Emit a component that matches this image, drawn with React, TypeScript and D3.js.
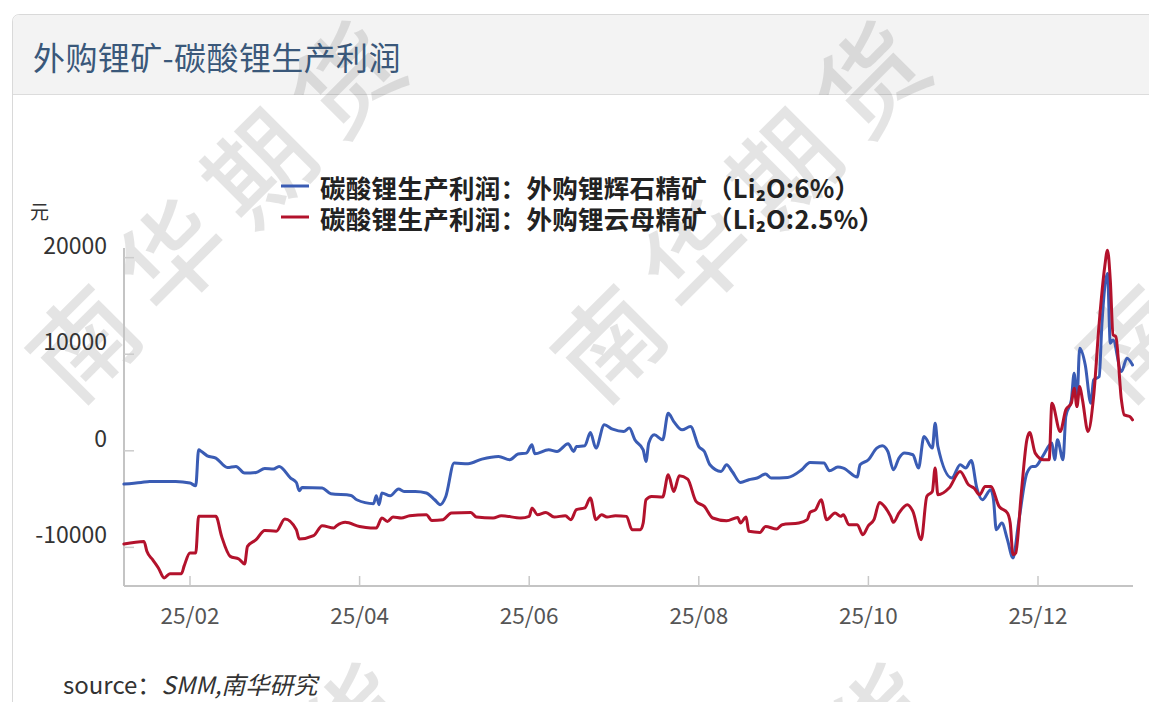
import React from "react";
import * as d3 from "d3";

const titleText = "外购锂矿-碳酸锂生产利润";
const unitLabel = "元";
const sourceLabel = "source：";
const sourceItalic = "SMM,南华研究";
const watermarkText = "南华期货";

const seriesNames = [
  "碳酸锂生产利润：外购锂辉石精矿（Li₂O:6%）",
  "碳酸锂生产利润：外购锂云母精矿（Li₂O:2.5%）",
];
const seriesColors = ["#3a5cb4", "#b3122c"];

const yTickValues = [-10000, 0, 10000, 20000];
const yDomain = [-14000, 21000];
const xTickDates = ["2025-02-01", "2025-04-01", "2025-06-01", "2025-08-01", "2025-10-01", "2025-12-01"];
const xTickLabels = ["25/02", "25/04", "25/06", "25/08", "25/10", "25/12"];

const spodumeneProfit: [string, number][] = [
  ["2025-01-09", -3450], ["2025-01-15", -3280], ["2025-01-18", -3170], ["2025-01-27", -3170],
  ["2025-02-01", -3340], ["2025-02-03", -3620], ["2025-02-04", 100], ["2025-02-05", -70],
  ["2025-02-07", -520], ["2025-02-10", -760], ["2025-02-14", -1730], ["2025-02-17", -1620],
  ["2025-02-20", -2310], ["2025-02-24", -2240], ["2025-02-27", -1830], ["2025-03-02", -1890],
  ["2025-03-04", -1620], ["2025-03-08", -2820], ["2025-03-10", -3280], ["2025-03-11", -4140],
  ["2025-03-12", -3800], ["2025-03-19", -3860], ["2025-03-22", -4450], ["2025-03-29", -4620],
  ["2025-03-31", -5070], ["2025-04-06", -5480], ["2025-04-07", -4650], ["2025-04-08", -5580],
  ["2025-04-09", -4370], ["2025-04-12", -4650], ["2025-04-15", -3960], ["2025-04-17", -4210],
  ["2025-04-21", -4210], ["2025-04-25", -4370], ["2025-04-28", -5070], ["2025-04-30", -5580],
  ["2025-05-02", -4730], ["2025-05-05", -1270], ["2025-05-10", -1340], ["2025-05-15", -860],
  ["2025-05-21", -590], ["2025-05-25", -930], ["2025-05-28", -340], ["2025-05-31", -240],
  ["2025-06-02", 620], ["2025-06-03", -310], ["2025-06-08", 100], ["2025-06-11", -70],
  ["2025-06-15", 720], ["2025-06-17", -70], ["2025-06-18", 440], ["2025-06-21", 520],
  ["2025-06-23", 1890], ["2025-06-25", 280], ["2025-06-28", 2690], ["2025-07-01", 2240],
  ["2025-07-05", 2000], ["2025-07-07", 2350], ["2025-07-09", 1140], ["2025-07-12", 100],
  ["2025-07-13", -1110], ["2025-07-14", 800], ["2025-07-16", 1650], ["2025-07-19", 1140],
  ["2025-07-21", 3900], ["2025-07-23", 3030], ["2025-07-26", 2170], ["2025-07-29", 2510],
  ["2025-08-01", 440], ["2025-08-03", -70], ["2025-08-05", -1450], ["2025-08-09", -2140],
  ["2025-08-11", -1450], ["2025-08-13", -2140], ["2025-08-16", -3280], ["2025-08-19", -3000],
  ["2025-08-22", -2820], ["2025-08-25", -2410], ["2025-08-27", -2820], ["2025-09-02", -2760],
  ["2025-09-07", -1960], ["2025-09-10", -1210], ["2025-09-15", -1270], ["2025-09-17", -2070],
  ["2025-09-20", -1690], ["2025-09-22", -1790], ["2025-09-27", -2720], ["2025-09-28", -1450],
  ["2025-10-01", -930], ["2025-10-04", 280], ["2025-10-06", 520], ["2025-10-08", -70],
  ["2025-10-10", -1960], ["2025-10-12", -750], ["2025-10-14", -240], ["2025-10-17", -410],
  ["2025-10-19", -1790], ["2025-10-21", 1480], ["2025-10-24", 280], ["2025-10-25", 2860],
  ["2025-10-26", 440], ["2025-10-31", -2820], ["2025-11-03", -1450], ["2025-11-05", -1790],
  ["2025-11-07", -1000], ["2025-11-09", -3860], ["2025-11-11", -5070], ["2025-11-14", -4030],
  ["2025-11-15", -5070], ["2025-11-16", -8170], ["2025-11-18", -7480], ["2025-11-20", -9200],
  ["2025-11-22", -11100], ["2025-11-24", -7480], ["2025-11-27", -2310], ["2025-11-29", -1620],
  ["2025-11-30", -1620], ["2025-12-03", -410], ["2025-12-06", 800], ["2025-12-07", -930],
  ["2025-12-08", 1140], ["2025-12-10", -930], ["2025-12-11", 3550], ["2025-12-13", 5270],
  ["2025-12-14", 8030], ["2025-12-15", 5270], ["2025-12-16", 10620], ["2025-12-18", 8890],
  ["2025-12-20", 4930], ["2025-12-21", 7340], ["2025-12-23", 7680], ["2025-12-24", 13200],
  ["2025-12-26", 18370], ["2025-12-27", 11140], ["2025-12-28", 11480], ["2025-12-31", 8200],
  ["2026-01-02", 9590], ["2026-01-04", 8890],
];

const lepidoliteProfit: [string, number][] = [
  ["2025-01-09", -9650], ["2025-01-16", -9380], ["2025-01-17", -10410], ["2025-01-19", -11270],
  ["2025-01-21", -12130], ["2025-01-23", -13160], ["2025-01-25", -12720], ["2025-01-29", -12720],
  ["2025-01-30", -11890], ["2025-02-01", -10580], ["2025-02-03", -10580], ["2025-02-04", -6790],
  ["2025-02-10", -6790], ["2025-02-12", -8860], ["2025-02-15", -10930], ["2025-02-18", -11200],
  ["2025-02-20", -11720], ["2025-02-21", -9900], ["2025-02-24", -9200], ["2025-02-27", -8240],
  ["2025-03-03", -8340], ["2025-03-06", -7060], ["2025-03-10", -8170], ["2025-03-11", -9130],
  ["2025-03-16", -8790], ["2025-03-19", -7760], ["2025-03-23", -7990], ["2025-03-24", -7760],
  ["2025-03-27", -7410], ["2025-04-01", -7830], ["2025-04-05", -7990], ["2025-04-07", -8000],
  ["2025-04-09", -6960], ["2025-04-11", -7310], ["2025-04-13", -6860], ["2025-04-16", -6960],
  ["2025-04-19", -6720], ["2025-04-25", -6620], ["2025-04-27", -7210], ["2025-05-01", -7130],
  ["2025-05-04", -6440], ["2025-05-11", -6380], ["2025-05-13", -6860], ["2025-05-19", -6960],
  ["2025-05-22", -6720], ["2025-05-29", -6960], ["2025-06-01", -6790], ["2025-06-02", -5920],
  ["2025-06-04", -6620], ["2025-06-07", -6380], ["2025-06-10", -6860], ["2025-06-14", -6720],
  ["2025-06-16", -7130], ["2025-06-18", -6100], ["2025-06-21", -5920], ["2025-06-23", -4890],
  ["2025-06-25", -7130], ["2025-06-27", -6620], ["2025-06-29", -6860], ["2025-07-02", -6720],
  ["2025-07-06", -6790], ["2025-07-08", -8170], ["2025-07-11", -8170], ["2025-07-12", -7480],
  ["2025-07-13", -5070], ["2025-07-15", -4730], ["2025-07-19", -4790], ["2025-07-21", -2480],
  ["2025-07-23", -4210], ["2025-07-25", -2590], ["2025-07-28", -2930], ["2025-07-31", -5240],
  ["2025-08-03", -5760], ["2025-08-06", -6960], ["2025-08-11", -7240], ["2025-08-15", -6900],
  ["2025-08-16", -7480], ["2025-08-18", -6860], ["2025-08-19", -8340], ["2025-08-23", -8450],
  ["2025-08-25", -7830], ["2025-08-29", -8100], ["2025-08-31", -7650], ["2025-09-06", -7480],
  ["2025-09-09", -7130], ["2025-09-10", -6380], ["2025-09-12", -6100], ["2025-09-14", -5070],
  ["2025-09-16", -7130], ["2025-09-19", -6440], ["2025-09-21", -6790], ["2025-09-22", -6620],
  ["2025-09-24", -7650], ["2025-09-27", -7650], ["2025-09-29", -8690], ["2025-10-01", -7750],
  ["2025-10-03", -7130], ["2025-10-05", -5350], ["2025-10-07", -5850], ["2025-10-09", -6790],
  ["2025-10-10", -7410], ["2025-10-12", -6440], ["2025-10-15", -5580], ["2025-10-17", -6280],
  ["2025-10-20", -9200], ["2025-10-22", -4730], ["2025-10-24", -4210], ["2025-10-25", -1790],
  ["2025-10-26", -4550], ["2025-10-30", -3860], ["2025-11-03", -2140], ["2025-11-06", -3520],
  ["2025-11-08", -3860], ["2025-11-10", -4550], ["2025-11-12", -3690], ["2025-11-14", -3690],
  ["2025-11-17", -5760], ["2025-11-20", -6440], ["2025-11-21", -7480], ["2025-11-22", -10750],
  ["2025-11-23", -10580], ["2025-11-25", -4370], ["2025-11-27", 1140], ["2025-11-28", 1890],
  ["2025-11-30", -240], ["2025-12-03", -930], ["2025-12-05", -930], ["2025-12-06", 4930],
  ["2025-12-09", 2000], ["2025-12-11", 4240], ["2025-12-13", 4930], ["2025-12-14", 6480],
  ["2025-12-15", 4580], ["2025-12-16", 6650], ["2025-12-17", 5270], ["2025-12-19", 2000],
  ["2025-12-21", 5610], ["2025-12-23", 13200], ["2025-12-25", 19060], ["2025-12-26", 20780],
  ["2025-12-27", 17680], ["2025-12-28", 12000], ["2025-12-29", 11820], ["2025-12-31", 5270],
  ["2026-01-01", 3720], ["2026-01-03", 3550], ["2026-01-04", 3210],
];

const W = 1149;
const H = 702;
const plotLeft = 124;
const plotRight = 1133;
const plotTop = 248;
const plotBottom = 586;
const firstTickX = 190;
const tickStep = 169.6;

const FONT = "'Noto Sans CJK SC', 'Noto Sans', sans-serif";

export default function App() {
  const parse = d3.timeParse("%Y-%m-%d");
  const tickDates = xTickDates.map((s) => parse(s) as Date);
  const x = d3
    .scaleTime()
    .domain(tickDates)
    .range(tickDates.map((_, i) => firstTickX + i * tickStep));
  const y = d3.scaleLinear().domain(yDomain).range([plotBottom, plotTop]);

  const line = d3
    .line<[string, number]>()
    .x((d) => x(parse(d[0]) as Date))
    .y((d) => y(d[1]))
    .curve(d3.curveMonotoneX);

  const series = [spodumeneProfit, lepidoliteProfit];

  const watermarkCenters: [number, number][] = [
    [218, 200],
    [743, 200],
    [1268, 200],
    [228, 842],
    [753, 842],
  ];

  return (
    <div style={{ position: "absolute", left: 0, top: 0 }}>
      <svg width={W} height={H} style={{ display: "block", background: "#fff" }}>
        {/* card */}
        <path
          d={`M12.5,${H} L12.5,22 Q12.5,14.5 20,14.5 L${W},14.5`}
          fill="none"
          stroke="#d9d9d9"
          strokeWidth={1}
        />
        <path d={`M13,${94} L13,22 Q13,15 20,15 L${W},15 L${W},94 Z`} fill="#f3f3f3" />
        <line x1={13} x2={W} y1={94.5} y2={94.5} stroke="#dcdcdc" strokeWidth={1} />

        {/* watermark */}
        <g
          fill="#000"
          fillOpacity={0.105}
          fontFamily={FONT}
          fontSize={104}
          fontWeight={500}
          style={{ letterSpacing: "20px" }}
        >
          {watermarkCenters.map(([cx, cy], i) => (
            <text
              key={i}
              transform={`translate(${cx},${cy}) rotate(-45)`}
              textAnchor="middle"
              dominantBaseline="central"
            >
              {watermarkText}
            </text>
          ))}
        </g>

        {/* title */}
        <text x={33} y={70} fontFamily={FONT} fontSize={32} fill="#3a587a" style={{ letterSpacing: "0.4px" }}>
          {titleText}
        </text>

        {/* legend */}
        {seriesNames.map((name, i) => (
          <g key={name} transform={`translate(0,${186 + i * 31})`}>
            <line x1={281} x2={309} y1={0} y2={0} stroke={seriesColors[i]} strokeWidth={3} />
            <text
              x={320}
              y={0}
              dominantBaseline="central"
              fontFamily={FONT}
              fontSize={25.5}
              fontWeight={700}
              fill="#222"
              style={{ letterSpacing: "0.3px" }}
            >
              {name}
            </text>
          </g>
        ))}

        {/* unit */}
        <text x={30} y={219} fontFamily={FONT} fontSize={19} fill="#333">
          {unitLabel}
        </text>

        {/* y axis */}
        <line x1={plotLeft} x2={plotLeft} y1={plotTop} y2={plotBottom} stroke="#c4c4c4" strokeWidth={2} />
        {yTickValues.map((v) => (
          <g key={v}>
            <line x1={plotLeft} x2={plotLeft + 10} y1={y(v)} y2={y(v)} stroke="#cccccc" strokeWidth={1.5} />
            <text x={107} y={y(v) - 4} textAnchor="end" fontFamily={FONT} fontSize={23} fill="#333">
              {v < 0 ? `-${Math.abs(v)}` : `${v}`}
            </text>
          </g>
        ))}

        {/* x axis */}
        <line x1={plotLeft} x2={plotRight} y1={plotBottom} y2={plotBottom} stroke="#c4c4c4" strokeWidth={2} />
        {tickDates.map((d, i) => (
          <g key={i}>
            <line x1={x(d)} x2={x(d)} y1={plotBottom} y2={plotBottom - 10} stroke="#c8c8c8" strokeWidth={1.5} />
            <text x={x(d)} y={624} textAnchor="middle" fontFamily={FONT} fontSize={22.5} fill="#555">
              {xTickLabels[i]}
            </text>
          </g>
        ))}

        {/* lines */}
        {series.map((s, i) => (
          <path
            key={i}
            d={line(s) || ""}
            fill="none"
            stroke={seriesColors[i]}
            strokeWidth={3}
            strokeLinejoin="round"
            strokeLinecap="round"
          />
        ))}

        {/* source */}
        <text x={63} y={694} fontFamily={FONT} fontSize={24} fill="#333">
          {sourceLabel}
          <tspan fontStyle="italic">{sourceItalic}</tspan>
        </text>
      </svg>
    </div>
  );
}
